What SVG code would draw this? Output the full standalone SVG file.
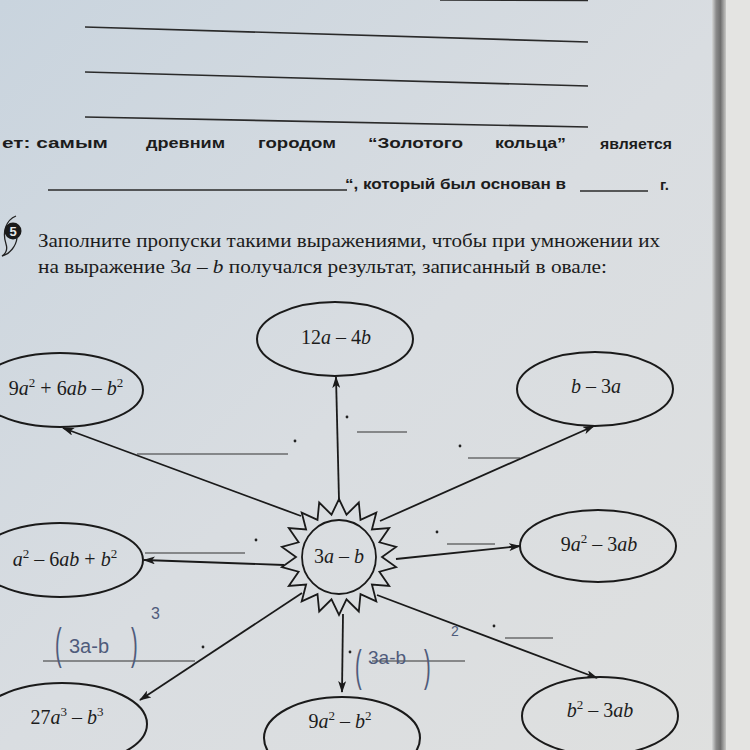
<svg xmlns="http://www.w3.org/2000/svg" width="750" height="750" viewBox="0 0 750 750">
<defs>
<linearGradient id="paper" x1="0" y1="0" x2="1" y2="1">
<stop offset="0" stop-color="#c9d4de"/>
<stop offset="0.5" stop-color="#d9dde1"/>
<stop offset="1" stop-color="#dfe0df"/>
</linearGradient>
<linearGradient id="edge" x1="0" y1="0" x2="1" y2="0">
<stop offset="0" stop-color="#d6d8d8"/>
<stop offset="0.3" stop-color="#8a8a8a"/>
<stop offset="0.6" stop-color="#6e6e6e"/>
<stop offset="1" stop-color="#c8c8c6"/>
</linearGradient>
<marker id="ah" viewBox="0 0 12 8" refX="11" refY="4" markerWidth="12" markerHeight="8" markerUnits="userSpaceOnUse" orient="auto">
<path d="M0,0 L12,4 L0,8 L3,4 z" fill="#1a1a1a"/>
</marker>
<style>
.rule{stroke:#2a2a2a;stroke-width:1.6;fill:none}
.blank{stroke:#333;stroke-width:1.2;fill:none}
.ov{fill:none;stroke:#1a1a1a;stroke-width:2}
.con{stroke:#1a1a1a;stroke-width:1.8;fill:none;marker-end:url(#ah)}
.hd{font-family:"Liberation Sans","Arial",sans-serif;font-weight:bold;font-size:15px;fill:#1c1c1c}
.q{font-family:"Liberation Serif","Times New Roman",serif;font-size:19px;fill:#1c1c1c}
.m{font-family:"Liberation Serif","Times New Roman",serif;font-size:20px;fill:#1c1c1c;text-anchor:middle}
.i{font-style:italic}
.hw{font-family:"Liberation Sans","DejaVu Sans",sans-serif;fill:#4f5b7b}
.dot{fill:#222}
</style>
</defs>
<rect width="750" height="750" fill="url(#paper)"/>
<rect x="724" y="0" width="26" height="750" fill="#e4e4e2"/>
<rect x="712" y="0" width="14" height="750" fill="url(#edge)"/>

<!-- top answer lines -->
<line class="rule" x1="440" y1="0" x2="588" y2="0.5"/>
<line class="rule" x1="85" y1="27" x2="588" y2="42"/>
<line class="rule" x1="85" y1="72" x2="588" y2="86"/>
<line class="rule" x1="85" y1="117" x2="588" y2="127"/>

<!-- answer sentence -->
<text class="hd" x="2" y="148" textLength="106" lengthAdjust="spacingAndGlyphs">ет: самым</text>
<text class="hd" x="146" y="148" textLength="79" lengthAdjust="spacingAndGlyphs">древним</text>
<text class="hd" x="258" y="148" textLength="78" lengthAdjust="spacingAndGlyphs">городом</text>
<text class="hd" x="368" y="148" textLength="95" lengthAdjust="spacingAndGlyphs">“Золотого</text>
<text class="hd" x="495" y="148" textLength="71" lengthAdjust="spacingAndGlyphs">кольца”</text>
<text class="hd" x="600" y="149" textLength="72" lengthAdjust="spacingAndGlyphs">является</text>
<line class="rule" x1="48" y1="190" x2="347" y2="190"/>
<text class="hd" x="345" y="189" textLength="221" lengthAdjust="spacingAndGlyphs">“, который был основан в</text>
<line class="rule" x1="580" y1="191" x2="648" y2="191"/>
<text class="hd" x="660" y="190">г.</text>

<!-- task number -->
<g id="badge">
<path d="M16,216 C6,220 2,232 6,244 C8,250 5,254 2,256 C10,254 16,246 17,238" fill="none" stroke="#222" stroke-width="1.3"/>
<circle cx="13" cy="231" r="8.5" fill="#1a1a1a"/>
<text x="13" y="236" text-anchor="middle" font-family="Liberation Sans, Arial, sans-serif" font-weight="bold" font-size="13" fill="#e8e8e8">5</text>
</g>
<text class="q" x="38" y="247" textLength="622" lengthAdjust="spacingAndGlyphs">Заполните пропуски такими выражениями, чтобы при умножении их</text>
<text class="q" x="38" y="273" textLength="569" lengthAdjust="spacingAndGlyphs">на выражение 3<tspan class="i">a</tspan> – <tspan class="i">b</tspan> получался результат, записанный в овале:</text>

<!-- connectors -->
<g id="connectors">
<line class="con" x1="339" y1="500" x2="336" y2="377"/>
<line class="con" x1="301" y1="516" x2="63" y2="428"/>
<line class="con" x1="380" y1="521" x2="594" y2="426"/>
<line class="con" x1="284" y1="565" x2="144" y2="560"/>
<line class="con" x1="396" y1="559" x2="520" y2="546"/>
<line class="con" x1="302" y1="593" x2="140" y2="700"/>
<line class="con" x1="343" y1="614" x2="342" y2="692"/>
<line class="con" x1="377" y1="595" x2="597" y2="678"/>
</g>

<!-- blanks and dots -->
<g id="blanks">
<circle class="dot" cx="347" cy="417" r="1.4"/>
<line class="blank" x1="357" y1="432" x2="407" y2="432"/>
<circle class="dot" cx="295" cy="441" r="1.4"/>
<line class="blank" x1="137" y1="454" x2="288" y2="454"/>
<circle class="dot" cx="460" cy="446" r="1.4"/>
<line class="blank" x1="468" y1="458" x2="520" y2="458"/>
<circle class="dot" cx="256" cy="540" r="1.4"/>
<line class="blank" x1="145" y1="553" x2="245" y2="553"/>
<circle class="dot" cx="437" cy="532" r="1.4"/>
<line class="blank" x1="447" y1="544" x2="495" y2="544"/>
<circle class="dot" cx="203" cy="647" r="1.4"/>
<line class="blank" x1="43" y1="661" x2="195" y2="661"/>
<circle class="dot" cx="350" cy="652" r="1.4"/>
<line class="blank" x1="372" y1="661" x2="465" y2="661"/>
<circle class="dot" cx="494" cy="626" r="1.4"/>
<line class="blank" x1="505" y1="638" x2="553" y2="638"/>
</g>

<!-- handwriting -->
<g id="handwriting">
<text class="hw" font-size="20" transform="translate(55,659) scale(1,2.2)">(</text>
<text class="hw" x="69" y="653" font-size="20">3a-b</text>
<text class="hw" font-size="20" transform="translate(131,659) scale(1,2.2)">)</text>
<text class="hw" x="151" y="619" font-size="16">3</text>
<text class="hw" font-size="20" transform="translate(355,681) scale(1,2.2)">(</text>
<text class="hw" x="368" y="664" font-size="19">3a-b</text>
<text class="hw" font-size="20" transform="translate(424,681) scale(1,2.2)">)</text>
<text class="hw" x="451" y="636" font-size="14">2</text>
</g>

<!-- center node -->
<g id="center">
<polygon fill="none" stroke="#1a1a1a" stroke-width="1.8" points="339,499 346.5,514.7 358.8,502.5 360.5,519.8 376.3,512.6 371.9,529.4 389.2,528 379.4,542.3 396.1,546.9 382,557 396.1,567.1 379.4,571.7 389.2,586 371.9,584.6 376.3,601.4 360.5,594.2 358.8,611.5 346.5,599.3 339,615 331.5,599.3 319.2,611.5 317.5,594.2 301.7,601.4 306.1,584.6 288.8,586 298.6,571.7 281.9,567.1 296,557 281.9,546.9 298.6,542.3 288.8,528 306.1,529.4 301.7,512.6 317.5,519.8 319.2,502.5 331.5,514.7"/>
<circle cx="339" cy="557" r="37" fill="none" stroke="#1a1a1a" stroke-width="1.8"/>
<text class="m" x="339" y="563">3<tspan class="i">a</tspan> – <tspan class="i">b</tspan></text>
</g>

<g id="n-top">
<ellipse class="ov" cx="335" cy="339" rx="78" ry="37"/>
<text class="m" x="336" y="344">12<tspan class="i">a</tspan> – 4<tspan class="i">b</tspan></text>
</g>
<g id="n-topleft">
<ellipse class="ov" cx="60" cy="390" rx="83" ry="37"/>
<text class="m" x="66" y="395">9<tspan class="i">a</tspan><tspan font-size="13" dy="-8">2</tspan><tspan dy="8"> + 6</tspan><tspan class="i">ab</tspan> – <tspan class="i">b</tspan><tspan font-size="13" dy="-8">2</tspan></text>
</g>
<g id="n-topright">
<ellipse class="ov" cx="595" cy="389" rx="78" ry="37"/>
<text class="m" x="596" y="393"><tspan class="i">b</tspan> – 3<tspan class="i">a</tspan></text>
</g>
<g id="n-left">
<ellipse class="ov" cx="60" cy="560" rx="83" ry="37"/>
<text class="m" x="65" y="566"><tspan class="i">a</tspan><tspan font-size="13" dy="-8">2</tspan><tspan dy="8"> – 6</tspan><tspan class="i">ab</tspan> + <tspan class="i">b</tspan><tspan font-size="13" dy="-8">2</tspan></text>
</g>
<g id="n-right">
<ellipse class="ov" cx="598" cy="546" rx="78" ry="36"/>
<text class="m" x="599" y="551">9<tspan class="i">a</tspan><tspan font-size="13" dy="-8">2</tspan><tspan dy="8"> – 3</tspan><tspan class="i">ab</tspan></text>
</g>
<g id="n-bottomleft">
<ellipse class="ov" cx="62" cy="724" rx="85" ry="41"/>
<text class="m" x="67" y="724">27<tspan class="i">a</tspan><tspan font-size="13" dy="-8">3</tspan><tspan dy="8"> – </tspan><tspan class="i">b</tspan><tspan font-size="13" dy="-8">3</tspan></text>
</g>
<g id="n-bottom">
<ellipse class="ov" cx="342" cy="738" rx="78" ry="41"/>
<text class="m" x="340" y="728">9<tspan class="i">a</tspan><tspan font-size="13" dy="-8">2</tspan><tspan dy="8"> – </tspan><tspan class="i">b</tspan><tspan font-size="13" dy="-8">2</tspan></text>
</g>
<g id="n-bottomright">
<ellipse class="ov" cx="600" cy="716" rx="78" ry="39"/>
<text class="m" x="600" y="717"><tspan class="i">b</tspan><tspan font-size="13" dy="-8">2</tspan><tspan dy="8"> – 3</tspan><tspan class="i">ab</tspan></text>
</g>
</svg>
